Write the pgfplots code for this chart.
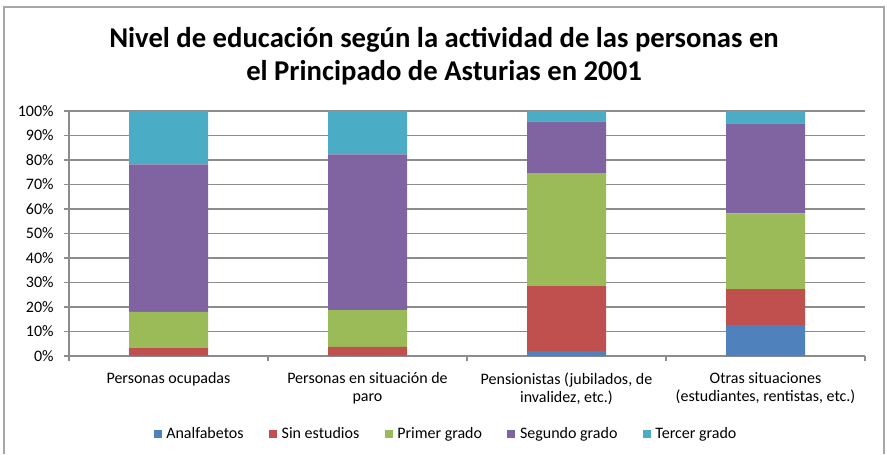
\documentclass[border=0pt]{standalone}
\usepackage{pgfplots}
\pgfplotsset{compat=1.18}
\usepackage{fontspec}
\setmainfont{Carlito}
\definecolor{cA}{HTML}{4F81BD}
\definecolor{cB}{HTML}{C0504D}
\definecolor{cC}{HTML}{9BBB59}
\definecolor{cD}{HTML}{8064A2}
\definecolor{cE}{HTML}{4BACC6}
\definecolor{gridg}{HTML}{8C8C8C}
\begin{document}
\begin{tikzpicture}
\path[use as bounding box] (-51.75pt,-73.5pt) rectangle (613.5pt,267pt);
\draw[color=black!35, line width=1pt] (-48.75pt,-73.5pt) -- (-48.75pt,261.75pt) -- (611.25pt,261.75pt) -- (611.25pt,-73.5pt);
\node[font=\fontsize{21.5}{25}\selectfont\bfseries, align=center] at (281.25pt,225pt) {Nivel de educación según la actividad de las personas en\\el Principado de Asturias en 2001};
\begin{axis}[
  at={(0pt,0pt)}, anchor=south west,
  scale only axis, width=597pt, height=183.75pt,
  ybar stacked, bar width=59.25pt,
  xmin=-0.5, xmax=3.5, ymin=0, ymax=100,
  xtick={0,1,2,3},
  xticklabels={{Personas ocupadas}, {Personas en situación de\\paro}, {Pensionistas (jubilados, de\\invalidez, etc.)}, {Otras situaciones\\(estudiantes, rentistas, etc.)}},
  xticklabel style={align=center, font=\fontsize{12}{13.5}\selectfont, yshift=-5pt},
  major x tick style={draw=none},
  minor xtick={-0.5,0.5,1.5,2.5,3.5},
  minor x tick style={gridg, line width=0.8pt},
  minor tick length=4pt,
  ytick={0,10,...,100},
  yticklabel={\pgfmathprintnumber{\tick}\%},
  yticklabel style={font=\fontsize{12}{13}\selectfont, xshift=-4pt},
  /pgf/number format/assume math mode=true,
  tick align=outside,
  major y tick style={gridg, line width=0.8pt},
  major tick length=4pt,
  ymajorgrids, grid style={gridg, line width=0.8pt},
  axis x line*=bottom, axis y line*=left,
  axis line style={gridg, line width=0.8pt, -},
  legend columns=5,
  legend style={draw=none, at={(0.474,-0.318)}, anchor=center, font=\fontsize{12}{13}\selectfont, /tikz/every even column/.append style={column sep=17pt}, /tikz/every odd column/.append style={column sep=1.5pt}},
  legend image code/.code={\fill[#1] (0pt,-3pt) rectangle (6pt,3pt);},
  every axis plot/.append style={draw=none},
]
\addplot[fill=cA] coordinates {(0,0.2) (1,0.2) (2,2.0) (3,12.6)};
\addplot[fill=cB] coordinates {(0,3.2) (1,3.5) (2,26.7) (3,14.7)};
\addplot[fill=cC] coordinates {(0,14.6) (1,15.0) (2,45.7) (3,30.9)};
\addplot[fill=cD] coordinates {(0,60.2) (1,63.6) (2,21.4) (3,36.8)};
\addplot[fill=cE] coordinates {(0,21.8) (1,17.7) (2,4.2) (3,5.0)};
\legend{Analfabetos, Sin estudios, Primer grado, Segundo grado, Tercer grado}
\end{axis}
\end{tikzpicture}
\end{document}
